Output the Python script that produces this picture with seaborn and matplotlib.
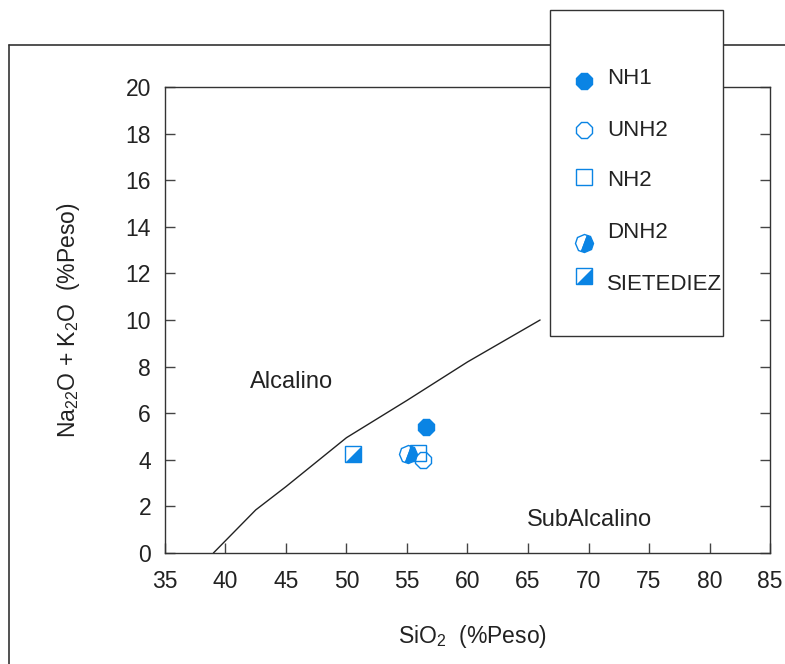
import matplotlib
matplotlib.use("Agg")
import matplotlib.pyplot as plt
from matplotlib.markers import MarkerStyle
from matplotlib.transforms import Affine2D
from matplotlib.lines import Line2D
from matplotlib.patches import Rectangle
import seaborn as sns
import pandas as pd

# ---- data ----
boundary_sio2 = [39.0, 42.5, 45.0, 50.0, 55.0, 60.0, 66.0]
boundary_alk = [0.0, 1.85, 2.85, 4.95, 6.55, 8.2, 10.0]

sample_names = ["NH1", "UNH2", "NH2", "DNH2", "SIETEDIEZ"]
sample_sio2 = [56.6, 56.35, 55.9, 55.1, 50.5]
sample_alk = [5.4, 4.0, 4.3, 4.25, 4.25]

x_ticks = [35, 40, 45, 50, 55, 60, 65, 70, 75, 80, 85]
y_ticks = [0, 2, 4, 6, 8, 10, 12, 14, 16, 18, 20]

BLUE = "#0A84E4"
DARK = "#222222"

sns.set_theme(style="white")
plt.rcParams["font.family"] = ["Liberation Sans", "DejaVu Sans"]
plt.rcParams["mathtext.fontset"] = "custom"
plt.rcParams["mathtext.rm"] = "Liberation Sans"
plt.rcParams["mathtext.it"] = "Liberation Sans"

fig = plt.figure(figsize=(7.85, 6.64), dpi=100)
ax = fig.add_axes([165 / 785, 1 - 553 / 664, (770 - 165) / 785, (553 - 87) / 664])

bdf = pd.DataFrame({"x": boundary_sio2, "y": boundary_alk})
sns.lineplot(data=bdf, x="x", y="y", sort=False, color="#222222", lw=1.0, ax=ax)

ms = 12
oct_half = MarkerStyle("8", fillstyle="right", transform=Affine2D().rotate_deg(-22.5))
tri = [(-1, -1), (1, -1), (1, 1)]


def draw_marker(axis, name, x, y, size=ms):
    kw = dict(linestyle="", clip_on=False)
    if name == "NH1":
        axis.plot([x], [y], marker="8", ms=size, color=BLUE, mec=BLUE, **kw)
    elif name == "UNH2":
        axis.plot([x], [y], marker="8", ms=size, mfc="none", mec=BLUE, mew=1.0, **kw)
    elif name == "NH2":
        axis.plot([x], [y], marker="s", ms=size, mfc="none", mec=BLUE, mew=1.0, **kw)
    elif name == "DNH2":
        axis.plot([x], [y], marker=oct_half, ms=size, mfc=BLUE, mfcalt="none",
                  mec=BLUE, mew=1.0, **kw)
    elif name == "SIETEDIEZ":
        axis.plot([x], [y], marker=tri, ms=size, mfc=BLUE, mec=BLUE, mew=0.5, **kw)
        axis.plot([x], [y], marker="s", ms=size, mfc="none", mec=BLUE, mew=1.0, **kw)


for n, x, y in zip(sample_names, sample_sio2, sample_alk):
    draw_marker(ax, n, x, y)

ax.set_xlim(35, 85)
ax.set_ylim(0, 20)
ax.set_xticks(x_ticks)
ax.set_yticks(y_ticks)
ax.set_xticklabels([str(t) for t in x_ticks])
ax.set_yticklabels([str(t) for t in y_ticks])
ax.tick_params(axis="both", direction="in", length=7, width=1, colors="#444444",
               labelcolor=DARK, labelsize=16.5, right=True, bottom=True, left=True)
ax.tick_params(axis="x", pad=12)
ax.tick_params(axis="y", pad=10)
for s in ax.spines.values():
    s.set_color("#333333")
    s.set_linewidth(1.0)
ax.set_xlabel("")
ax.set_ylabel("")

ax.text(42.0, 7.35, "Alcalino", fontsize=17, color=DARK, va="center", ha="left")
ax.text(64.9, 1.4, "SubAlcalino", fontsize=17, color=DARK, va="center", ha="left")

fig.text(472 / 785, 1 - 636 / 664, r"SiO$_2$  (%Peso)", fontsize=16.5, color=DARK,
         ha="center", va="center")
fig.text(68 / 785, 1 - 320 / 664, r"Na$_{22}$O + K$_2$O  (%Peso)", fontsize=16.5,
         color=DARK, ha="center", va="center", rotation=90)

# outer frame
fig.add_artist(Line2D([9 / 785, 1.0], [1 - 45 / 664, 1 - 45 / 664], color="#333333", lw=1.2))
fig.add_artist(Line2D([9 / 785, 9 / 785], [0, 1 - 45 / 664], color="#333333", lw=1.2))

# legend box
fig.add_artist(Rectangle((550 / 785, 1 - 336 / 664), (723 - 550) / 785, (336 - 10) / 664,
                         transform=fig.transFigure, facecolor="white",
                         edgecolor="#333333", lw=1.0, zorder=5))
lax = fig.add_axes([0, 0, 1, 1], facecolor="none")
lax.set_xlim(0, 785)
lax.set_ylim(664, 0)
lax.axis("off")
lax.set_zorder(6)
leg_marker_y = [81, 130, 177, 243, 276]
leg_text_y = [78, 130, 180, 233, 284]
for n, my, ty in zip(sample_names, leg_marker_y, leg_text_y):
    draw_marker(lax, n, 584, my)
    lax.text(607, ty, n, fontsize=16, color=DARK, va="center", ha="left")

fig.savefig("out.png", dpi=100)
